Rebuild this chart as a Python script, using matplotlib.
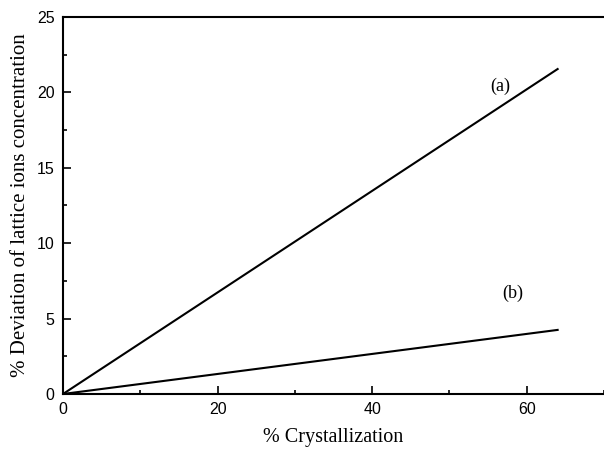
import matplotlib.pyplot as plt
from matplotlib.ticker import MultipleLocator

# data
crystallization = [0, 64]
deviation_a = [0, 21.55]
deviation_b = [0, 4.25]
label_a = "(a)"
label_b = "(b)"

fig = plt.figure(figsize=(6.04, 4.51), dpi=100)
ax = fig.add_axes([0.1043, 0.1264, 0.8957, 0.8359])

ax.plot(crystallization, deviation_a, color='black', lw=1.5)
ax.plot(crystallization, deviation_b, color='black', lw=1.5)

ax.text(56.6, 20.4, label_a, family='Liberation Serif', fontsize=13, ha='center', va='center')
ax.text(58.2, 6.7, label_b, family='Liberation Serif', fontsize=13, ha='center', va='center')

ax.set_xlim(0, 70)
ax.set_ylim(0, 25)
ax.xaxis.set_major_locator(MultipleLocator(20))
ax.xaxis.set_minor_locator(MultipleLocator(10))
ax.yaxis.set_major_locator(MultipleLocator(5))
ax.yaxis.set_minor_locator(MultipleLocator(2.5))
ax.tick_params(which='both', direction='in', top=False, right=False, width=1.2,
               labelsize=11.5, labelfontfamily='Liberation Sans', pad=6)
ax.tick_params(which='major', length=6)
ax.tick_params(which='minor', length=3)

ax.spines['right'].set_visible(False)
for s in ['left', 'bottom', 'top']:
    ax.spines[s].set_linewidth(1.5)

ax.set_xlabel('% Crystallization', family='Liberation Serif', fontsize=14.5, labelpad=8)
ax.set_ylabel('% Deviation of lattice ions concentration', family='Liberation Serif',
              fontsize=15, labelpad=5)

fig.savefig('out.png', dpi=100)
